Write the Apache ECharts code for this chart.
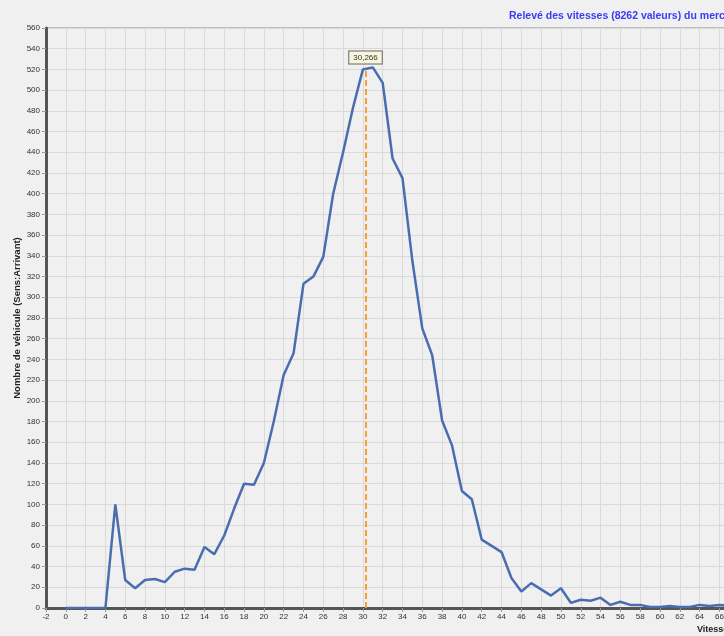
<!DOCTYPE html>
<html>
<head>
<meta charset="utf-8">
<script src="https://cdn.jsdelivr.net/npm/echarts@6/dist/echarts.min.js"></script>
<style>
  html, body { margin: 0; padding: 0; background: #f0f0f0; }
  #chart { width: 724px; height: 636px; }
</style>
</head>
<body>
<div id="chart"></div>
<script>
// vitesse (km/h) et nombre de véhicules
const speeds = [0, 1, 2, 3, 4, 5, 6, 7, 8, 9, 10, 11, 12, 13, 14, 15, 16, 17, 18, 19,
  20, 21, 22, 23, 24, 25, 26, 27, 28, 29, 30, 31, 32, 33, 34, 35, 36, 37, 38, 39,
  40, 41, 42, 43, 44, 45, 46, 47, 48, 49, 50, 51, 52, 53, 54, 55, 56, 57, 58, 59,
  60, 61, 62, 63, 64, 65, 66, 67, 68]
const counts = [0, 0, 0, 0, 0, 100, 27, 19, 27, 28, 25, 35, 38, 37, 59, 52, 70, 96, 120, 119,
  140, 180, 225, 246, 313, 320, 339, 400, 440, 483, 520, 522, 507, 434, 415, 335, 270, 244, 181, 157,
  113, 105, 66, 60, 54, 29, 16, 24, 18, 12, 19, 5, 8, 7, 10, 3, 6, 3, 3, 1,
  1, 2, 1, 1, 3, 2, 3, 2, 2]
const meanSpeed = 30.266
const titleText = 'Relevé des vitesses (8262 valeurs) du mercredi'

let chart = echarts.init(document.getElementById('chart'))
let option = {
  backgroundColor: '#f0f0f0',
  animation: false,
  textStyle: { fontFamily: 'Liberation Sans' },
  graphic: [
    {
      type: 'text', left: 509, top: 11,
      style: { text: titleText, fill: '#3b3bf5', font: 'bold 10.5px "Liberation Sans"' }
    },
    {
      type: 'text', left: 697, top: 625,
      style: { text: 'Vitesse', fill: '#222', font: 'bold 9px "Liberation Sans"' }
    }
  ],
  grid: {
    left: 46, top: 28, width: 713, height: 580,
    outerBoundsMode: 'none', containLabel: false,
    show: true, backgroundColor: '#f0f0f0', borderColor: '#8a8a8a', borderWidth: 1
  },
  xAxis: {
    type: 'value', min: -2, max: 70, interval: 2,
    axisLine: { onZero: false, lineStyle: { color: '#555', width: 3 } },
    axisTick: { length: 4, lineStyle: { color: '#999' } },
    axisLabel: { color: '#333', fontSize: 8, margin: 5 },
    splitLine: { lineStyle: { color: '#dadada', width: 1 } }
  },
  yAxis: {
    type: 'value', min: 0, max: 560, interval: 20,
    name: 'Nombre de véhicule (Sens:Arrivant)',
    nameLocation: 'middle', nameGap: 24, nameMoveOverlap: false,
    nameTextStyle: { color: '#222', fontSize: 9.5, fontWeight: 'bold' },
    axisLine: { show: true, onZero: false, lineStyle: { color: '#555', width: 3 } },
    axisTick: { show: true, length: 4, lineStyle: { color: '#999' } },
    axisLabel: { color: '#333', fontSize: 8, margin: 6 },
    splitLine: { lineStyle: { color: '#dadada', width: 1 } }
  },
  series: [{
    type: 'line',
    data: speeds.map((s, i) => [s, counts[i]]),
    symbol: 'none',
    lineStyle: { color: '#4a6db0', width: 2.5 },
    z: 3,
    markLine: {
      silent: true,
      symbol: 'none',
      lineStyle: { color: '#f5a030', width: 2, type: [6, 3] },
      label: {
        show: true, position: 'end', formatter: '30,266',
        color: '#333', fontSize: 8,
        backgroundColor: '#f6f6dc', borderColor: '#666', borderWidth: 1,
        padding: [2, 4], distance: 6
      },
      data: [[{ coord: [meanSpeed, 0] }, { coord: [meanSpeed, 520] }]]
    }
  }]
}
chart.setOption(option)
</script>
</body>
</html>
